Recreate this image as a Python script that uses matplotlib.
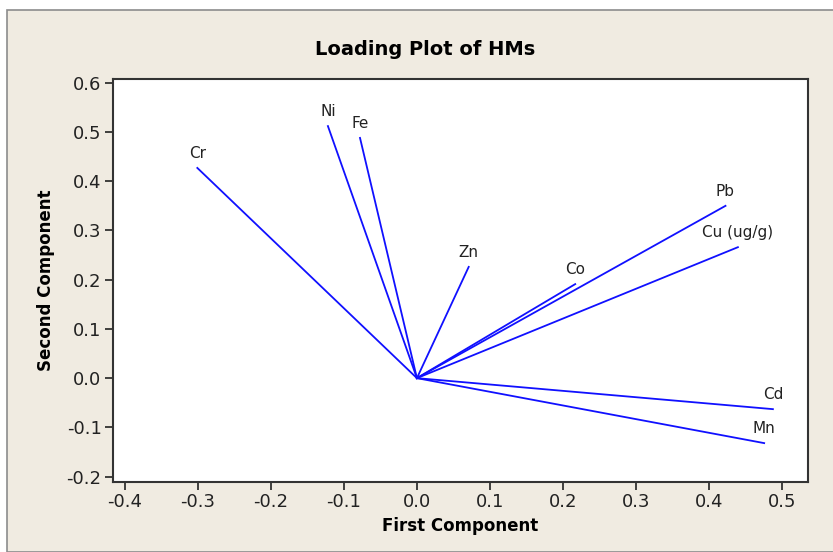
import numpy as np
import matplotlib.pyplot as plt
from matplotlib.patches import Rectangle

# loadings
names = ["Cr", "Ni", "Fe", "Zn", "Co", "Pb", "Cu (ug/g)", "Cd", "Mn"]
pc1 = [-0.301, -0.122, -0.078, 0.071, 0.217, 0.423, 0.440, 0.488, 0.476]
pc2 = [0.427, 0.512, 0.488, 0.226, 0.191, 0.350, 0.266, -0.063, -0.132]

xticks = [-0.4, -0.3, -0.2, -0.1, 0.0, 0.1, 0.2, 0.3, 0.4, 0.5]
yticks = [-0.2, -0.1, 0.0, 0.1, 0.2, 0.3, 0.4, 0.5, 0.6]

fig = plt.figure(figsize=(8.33, 5.52), dpi=100)
fig.patch.set_facecolor("white")
# beige panel with grey frame
fig.patches.append(Rectangle((7/833, 0), 1, 1 - 10/552, transform=fig.transFigure,
                             facecolor="#f0ebe1", edgecolor="#8c8c8c", linewidth=1.2, zorder=-10))

ax = fig.add_axes([0.1353, 0.1268, 0.8346, 0.7295])
ax.set_facecolor("white")

for n, x, y in zip(names, pc1, pc2):
    ax.plot([0, x], [0, y], color="#1010ff", linewidth=1.3)
    ax.annotate(n, (x, y), xytext=(0, 5), textcoords="offset points",
                ha="center", va="bottom", fontsize=11, color="#222222")

ax.set_xlim(-0.417, 0.536)
ax.set_ylim(-0.211, 0.607)
ax.set_xticks(xticks)
ax.set_yticks(yticks)
ax.set_xticklabels(["%.1f" % t for t in xticks])
ax.set_yticklabels(["%.1f" % t for t in yticks])
ax.tick_params(direction="out", length=6, width=1.2, labelsize=13, colors="#222222", pad=2)
for s in ax.spines.values():
    s.set_linewidth(1.5)
    s.set_color("#333333")

ax.set_xlabel("First Component", fontsize=12, fontweight="bold", labelpad=4)
ax.set_ylabel("Second Component", fontsize=12, fontweight="bold", labelpad=8)
fig.text(0.51, 0.91, "Loading Plot of HMs", ha="center", va="center",
         fontsize=14, fontweight="bold")

fig.savefig("out.png", dpi=100, facecolor=fig.get_facecolor())
